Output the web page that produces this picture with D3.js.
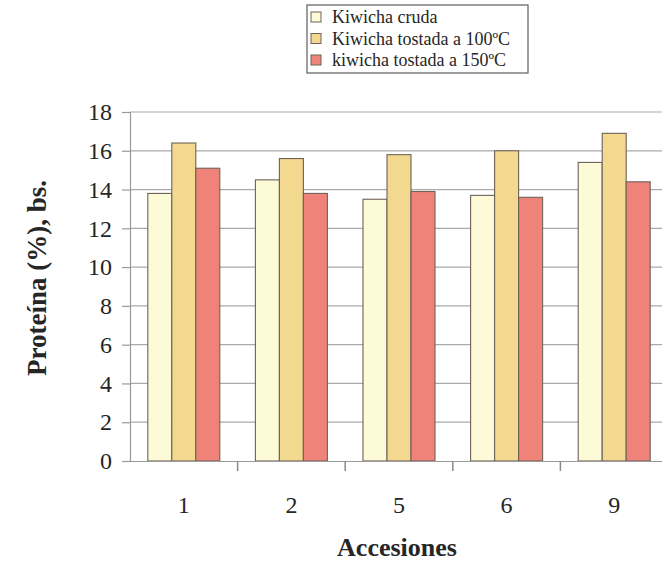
<!DOCTYPE html>
<html>
<head>
<meta charset="utf-8">
<script src="https://cdn.jsdelivr.net/npm/d3@7"></script>
<style>
  html, body { margin: 0; padding: 0; background: #fff; }
  svg { display: block; }
  text { font-family: "Liberation Serif", "DejaVu Serif", serif; fill: #262626; }
</style>
</head>
<body>
<svg id="chart" width="662" height="563"></svg>
<script>
// Protein content (% dry basis) of kiwicha accessions, raw and toasted
const accessions = ["1", "2", "5", "6", "9"];
const seriesNames = ["Kiwicha cruda", "Kiwicha tostada a 100ºC", "kiwicha tostada a 150ºC"];
const cruda      = [13.8, 14.5, 13.5, 13.7, 15.4];
const tostada100 = [16.4, 15.6, 15.8, 16.0, 16.9];
const tostada150 = [15.1, 13.8, 13.9, 13.6, 14.4];
const yTicks = [0, 2, 4, 6, 8, 10, 12, 14, 16, 18];
const colors = ["#fdfad8", "#f3d98f", "#ef8279"];

const series = [cruda, tostada100, tostada150];
const svg = d3.select("#chart");

const plot = { left: 130, right: 668, top: 112, bottom: 461 };

const x = d3.scaleBand()
  .domain(accessions)
  .range([plot.left, plot.right])
  .paddingInner(0)
  .paddingOuter(0);

const barW = 24;
const xs = d3.scaleBand()
  .domain(seriesNames)
  .range([0, barW * 3]);

const y = d3.scaleLinear().domain([0, 18]).range([plot.bottom, plot.top]);

// horizontal gridlines
svg.append("g")
  .selectAll("line")
  .data(yTicks.filter(d => d > 0))
  .join("line")
  .attr("x1", plot.left).attr("x2", plot.right)
  .attr("y1", d => y(d)).attr("y2", d => y(d))
  .attr("stroke", "#a9a9a9").attr("stroke-width", 1.2);

// y axis
const yAxis = svg.append("g")
  .attr("transform", `translate(${plot.left},0)`)
  .call(d3.axisLeft(y).tickValues(yTicks).tickSize(8).tickPadding(10));
yAxis.select(".domain").attr("stroke", "#9a9a9a").attr("stroke-width", 1.2);
yAxis.selectAll(".tick line").attr("stroke", "#9a9a9a").attr("stroke-width", 1.2);
yAxis.selectAll(".tick text")
  .attr("font-size", 24)
  .attr("font-family", "Liberation Serif, serif")
  .attr("fill", "#262626");

// bars
const groups = svg.append("g")
  .selectAll("g")
  .data(accessions)
  .join("g")
  .attr("transform", d => `translate(${x(d) + (x.bandwidth() - barW * 3) / 2},0)`);

groups.selectAll("rect")
  .data((d, i) => series.map((s, k) => ({ name: seriesNames[k], value: s[i], k })))
  .join("rect")
  .attr("x", d => xs(d.name))
  .attr("width", xs.bandwidth())
  .attr("y", d => y(d.value))
  .attr("height", d => y(0) - y(d.value))
  .attr("fill", d => colors[d.k])
  .attr("stroke", "#6e6258")
  .attr("stroke-width", 1.1);

// x axis
const xAxis = svg.append("g")
  .attr("transform", `translate(0,${plot.bottom})`)
  .call(d3.axisBottom(x).tickSize(0).tickPadding(35));
xAxis.select(".domain").attr("stroke", "#9a9a9a").attr("stroke-width", 1.2);
xAxis.selectAll(".tick text")
  .attr("font-size", 24)
  .attr("font-family", "Liberation Serif, serif")
  .attr("fill", "#262626");

// category separators below the axis
svg.append("g")
  .selectAll("line")
  .data(accessions.slice(1))
  .join("line")
  .attr("x1", d => x(d)).attr("x2", d => x(d))
  .attr("y1", plot.bottom).attr("y2", plot.bottom + 10)
  .attr("stroke", "#8a8a8a").attr("stroke-width", 1.5);

// axis titles
svg.append("text")
  .attr("x", 397)
  .attr("y", 556)
  .attr("text-anchor", "middle")
  .attr("font-size", 26)
  .attr("font-weight", "bold")
  .text("Accesiones");

svg.append("text")
  .attr("transform", "translate(46,278) rotate(-90)")
  .attr("text-anchor", "middle")
  .attr("font-size", 27)
  .attr("font-weight", "bold")
  .text("Proteína (%), bs.");

// legend
const legend = svg.append("g").attr("transform", "translate(307,5)");
legend.append("rect")
  .attr("width", 221).attr("height", 68)
  .attr("fill", "#fff")
  .attr("stroke", "#6a6a6a").attr("stroke-width", 1.3);
const items = legend.selectAll("g.item")
  .data(seriesNames)
  .join("g")
  .attr("class", "item")
  .attr("transform", (d, i) => `translate(4,${13 + i * 21.5})`);
items.append("rect")
  .attr("width", 10).attr("height", 10).attr("y", -6)
  .attr("fill", (d, i) => colors[i])
  .attr("stroke", "#6e6258").attr("stroke-width", 1);
items.append("text")
  .attr("x", 21).attr("y", 5)
  .attr("font-size", 18)
  .text(d => d);
</script>
</body>
</html>
